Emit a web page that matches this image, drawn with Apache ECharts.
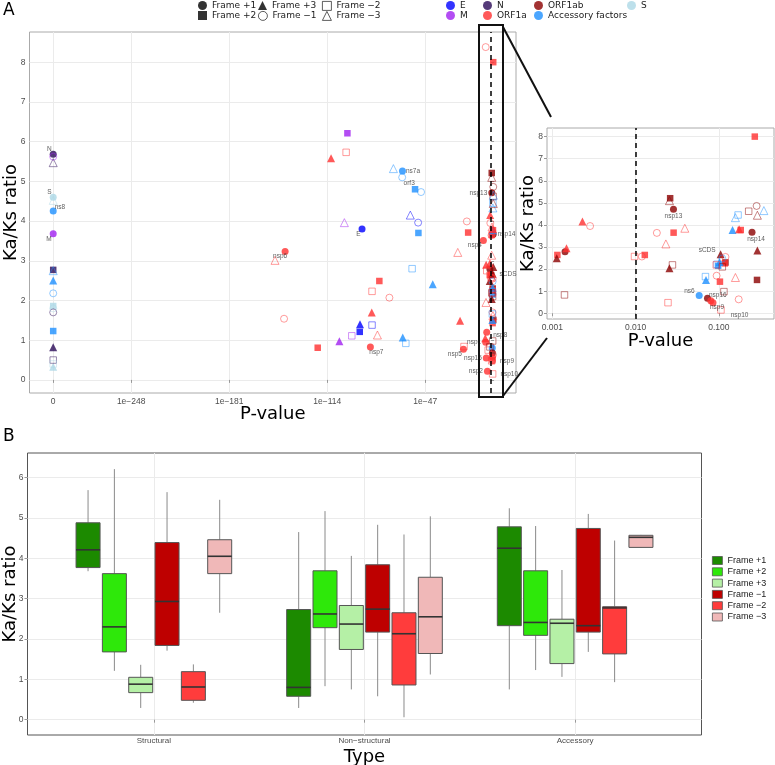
<!DOCTYPE html>
<html>
<head>
<meta charset="utf-8">
<script src="https://cdn.jsdelivr.net/npm/echarts@6/dist/echarts.min.js"></script>
<style>
  html, body { margin: 0; padding: 0; background: #fff; }
  #chart { width: 775px; height: 765px; }
</style>
</head>
<body>
<div id="chart"></div>
<script>
// reading frames, legend order
const frames = ['Frame +1', 'Frame +2', 'Frame +3', 'Frame −1', 'Frame −2', 'Frame −3'];

// panel A: [p-value, Ka/Ks ratio, frame, label]
const geneE = [
  [6e-91, 3.80, 1, 'E'],
  [6e-58, 4.15, -3],
  [1.3e-52, 3.96, -1],
  [2.5e-92, 1.40, 3],
  [4e-84, 1.38, -2],
  [1.6e-92, 1.21, 2]
];
const geneM = [
  [0, 3.68, 1, 'M'],
  [0, 5.62, -1],
  [6e-101, 6.21, 2],
  [5e-103, 3.96, -3],
  [6e-98, 1.11, -2],
  [2e-106, 0.97, 3]
];
const geneN = [
  [0, 5.68, 1, 'N'],
  [0, 5.47, -3],
  [0, 2.77, 2],
  [0, 0.82, 3],
  [0, 1.70, -1],
  [0, 0.50, -2]
];
const geneS = [
  [0, 4.60, 1, 'S'],
  [0, 4.52, -3],
  [0, 1.86, 2],
  [0, 0.33, 3],
  [0, 0.40, -2],
  [0, 1.80, -1]
];
const accessory = [
  [0, 4.25, 1, 'ns8'],
  [0, 2.50, 3],
  [0, 2.18, -1],
  [0, 1.23, 2],
  [0, 2.75, -3],
  [1.6e-69, 5.32, -3],
  [2.5e-63, 5.26, 1, 'ns7a'],
  [1.6e-63, 5.10, -1],
  [1e-54, 4.80, 2, 'orf3'],
  [1.3e-50, 4.73, -1],
  [2e-52, 3.70, 2],
  [1e-56, 2.80, -2],
  [1.3e-42, 2.41, 3],
  [4e-63, 1.07, 3],
  [5e-61, 0.92, -2],
  [0.058, 0.80, 1, 'ns6'],
  [0.069, 1.66, -2],
  [0.070, 1.51, 3],
  [0.146, 3.77, 3],
  [0.158, 4.33, -3],
  [0.170, 4.45, -2],
  [0.347, 4.65, -3],
  [0.095, 2.22, -2],
  [0.098, 2.15, 2],
  [0.102, 2.32, 3],
  [0.110, 2.48, -1]
];
const orf1ab = [
  [0.00113, 2.49, 3],
  [0.00142, 2.79, 1],
  [0.0014, 0.83, -2],
  [0.026, 5.21, 2],
  [0.0255, 5.10, -3],
  [0.0285, 4.71, 1, 'nsp13'],
  [0.0277, 2.19, -2],
  [0.0255, 2.04, 3],
  [0.073, 0.68, 1, 'nsp16'],
  [0.105, 2.67, 3, 'sCDS'],
  [0.110, 2.10, -2],
  [0.115, 0.98, -2],
  [0.120, 2.30, 2],
  [0.287, 1.51, 2],
  [0.290, 2.84, 3],
  [0.250, 3.67, 1, 'nsp14'],
  [0.228, 4.62, -2],
  [0.284, 4.86, -1],
  [0.290, 4.44, -3]
];
const orf1a = [
  [0.27, 8.00, 2],
  [2e-6, 8.38, -1],
  [0.00115, 2.64, 2],
  [0.00148, 2.94, 3],
  [0.0023, 4.15, 3],
  [0.00284, 3.95, -1],
  [0.0097, 2.57, -2],
  [0.0119, 2.57, -1],
  [0.0129, 2.64, 2],
  [0.018, 3.64, -1],
  [0.0231, 3.14, -3],
  [0.0286, 3.65, 2],
  [0.039, 3.85, -3],
  [0.0245, 0.48, -2],
  [0.094, 1.70, -1],
  [0.080, 0.57, 1],
  [0.085, 0.48, 1, 'nsp9'],
  [0.106, 0.15, -2, 'nsp10'],
  [0.093, 2.19, -2],
  [0.118, 2.26, 2],
  [0.120, 2.55, -1],
  [0.103, 1.43, 2],
  [0.173, 0.63, -1],
  [0.158, 1.62, -3],
  [0.183, 3.77, 2],
  [0.175, 3.80, 3],
  [8e-102, 5.73, -2],
  [4e-112, 5.58, 3],
  [2.5e-19, 3.99, -1],
  [2e-18, 3.71, 2],
  [5e-8, 3.51, 1, 'nsp4'],
  [1.6e-25, 3.21, -3],
  [1.6e-143, 3.23, 1, 'nsp6'],
  [2e-150, 3.01, -3],
  [4e-79, 2.49, 2],
  [4e-84, 2.23, -2],
  [3e-72, 2.07, -1],
  [3e-144, 1.54, -1],
  [2.5e-84, 1.70, 3],
  [2e-80, 1.13, -3],
  [3e-85, 0.83, 1, 'nsp7'],
  [3e-121, 0.81, 2],
  [6e-24, 1.49, 3],
  [3e-21, 0.84, -2],
  [1.2e-21, 0.77, 1, 'nsp5'],
  [1e-5, 1.20, 1, 'nsp8'],
  [2e-6, 0.95, 1, 'nsp1'],
  [5e-6, 0.55, 1, 'nsp15'],
  [3e-5, 0.22, 1, 'nsp2'],
  [1e-6, 1.05, 3],
  [4e-6, 2.90, 3],
  [1e-5, 2.75, -2],
  [3e-6, 1.95, -3],
  [1e-4, 0.75, -2]
];

// main x axis ticks (log10 p); p = 0 is drawn at the "0" tick
const ZERO_POS = -301.3;
const mainTicks = [ZERO_POS, -248, -181, -114, -47];
const mainTickLabels = ['0', '1e−248', '1e−181', '1e−114', '1e−47'];
const insetTicks = [-3, -2, -1];
const insetTickLabels = ['0.001', '0.010', '0.100'];
const ratioTicksA = [0, 1, 2, 3, 4, 5, 6, 7, 8];

// panel B: per frame, per type [min, q1, median, q3, max]
const types = ['Structural', 'Non−structural', 'Accessory'];
const ratioTicksB = [0, 1, 2, 3, 4, 5, 6];
const boxPlus1 = [[3.68, 3.77, 4.21, 4.88, 5.69], [0.29, 0.58, 0.80, 2.73, 4.65], [0.75, 2.33, 4.25, 4.78, 5.24]];
const boxPlus2 = [[1.21, 1.68, 2.30, 3.62, 6.21], [0.83, 2.28, 2.62, 3.69, 5.17], [1.23, 2.09, 2.41, 3.69, 4.80]];
const boxPlus3 = [[0.29, 0.67, 0.88, 1.05, 1.36], [0.75, 1.74, 2.37, 2.83, 4.06], [1.06, 1.39, 2.39, 2.49, 3.71]];
const boxMinus1 = [[1.71, 1.84, 2.93, 4.39, 5.64], [0.58, 2.17, 2.74, 3.84, 4.83], [1.68, 2.17, 2.33, 4.74, 5.10]];
const boxMinus2 = [[0.42, 0.48, 0.81, 1.19, 1.37], [0.06, 0.86, 2.13, 2.65, 4.59], [0.93, 1.63, 2.77, 2.80, 4.44]];
const boxMinus3 = [[2.65, 3.62, 4.05, 4.46, 5.45], [1.12, 1.64, 2.55, 3.53, 5.04], [4.26, 4.27, 4.52, 4.57, 4.58]];
const boxStats = [boxPlus1, boxPlus2, boxPlus3, boxMinus1, boxMinus2, boxMinus3];

// styles
const groupList = [
  ['E', geneE], ['M', geneM], ['N', geneN], ['S', geneS],
  ['Accessory factors', accessory], ['ORF1ab', orf1ab], ['ORF1a', orf1a]
];
const groupColor = {
  'E': '#0000FF', 'N': '#2B0A57', 'ORF1ab': '#8B0000', 'S': '#ADD8E6',
  'M': '#A020F0', 'ORF1a': '#FF3030', 'Accessory factors': '#1E90FF'
};
const frameSymbol = ['circle', 'rect', 'triangle', 'circle', 'rect', 'triangle'];
const frameSize = [7, 6.5, 8, 7, 6.5, 8];
const boxColor = ['#1C8A00', '#2EE80A', '#B5F0A6', '#BE0000', '#FF3C3C', '#F0B8B8'];

const mainLabelPos = {
  N: ['left', [3, -5]], S: ['left', [3, -5]], ns8: ['right', [-3, -4]], M: ['left', [3, 5]],
  ns7a: ['right', [-1, 0]], orf3: ['left', [4, -6]], E: ['left', [3, 5]],
  nsp6: ['bottom', [-5, -3]], nsp7: ['bottom', [6, -3]], nsp4: ['left', [3, 5]], nsp5: ['left', [3, 5]],
  nsp13: ['left', [0, 0]], nsp14: ['right', [0, 0]], sCDS: ['right', [2, 0]], nsp8: ['right', [2, 3]],
  nsp1: ['left', [0, 0]], nsp9: ['right', [3, 0]], nsp15: ['left', [0, 0]], nsp10: ['right', [3, 0]], nsp2: ['left', [0, 0]]
};
const insetLabelPos = {
  nsp13: ['bottom', [0, -1]], nsp14: ['bottom', [4, -1]], sCDS: ['left', [0, -4]], ns6: ['left', [0, -4]],
  nsp16: ['right', [-3, -3]], nsp9: ['bottom', [4, -3]], nsp10: ['right', [5, 5]]
};

function frameIndex(f) { return f > 0 ? f - 1 : 2 - f; }
function xPos(p) { return p === 0 ? ZERO_POS : Math.log10(p); }
function fade(hex, a) {
  const n = parseInt(hex.slice(1), 16);
  return 'rgba(' + (n >> 16) + ',' + ((n >> 8) & 255) + ',' + (n & 255) + ',' + a + ')';
}

function pointItem(pt, color, filled, labelMap) {
  const item = {
    name: pt[3] || '',
    value: [xPos(pt[0]), pt[1]],
    itemStyle: filled ? { color: color } : { borderColor: fade(color, 0.6) }
  };
  const lp = pt[3] && labelMap[pt[3]];
  if (lp) {
    item.label = { show: true, position: lp[0], offset: lp[1], formatter: pt[3],
      fontSize: 6.5, color: '#333', distance: 1, fontFamily: 'Liberation Sans' };
  }
  return item;
}

function scatterSeries(panel) {
  return frames.map(function (f, fi) {
    const filled = fi < 3;
    const data = [];
    groupList.forEach(function (g) {
      g[1].forEach(function (pt) {
        if (frameIndex(pt[2]) !== fi) return;
        if (panel === 1 && !(pt[0] >= 0.0009 && pt[0] <= 0.45)) return;
        data.push(pointItem(pt, groupColor[g[0]], filled, panel === 0 ? mainLabelPos : insetLabelPos));
      });
    });
    const s = {
      name: f, type: 'scatter', xAxisIndex: panel, yAxisIndex: panel,
      symbol: frameSymbol[fi], symbolSize: frameSize[fi], silent: true,
      itemStyle: filled ? { color: '#000', borderWidth: 0 }
                        : { color: 'rgba(0,0,0,0)', borderColor: '#000', borderWidth: 1 },
      data: data
    };
    if (fi === 0) {
      s.markLine = { silent: true, symbol: ['none', 'none'], label: { show: false },
        lineStyle: { color: '#000', type: [5, 4], width: 1.5 }, data: [{ xAxis: -2 }] };
    }
    return s;
  });
}

const DODGE = 0.125, BOX_W = 0.114;
function boxRenderer(fi) {
  return function (params, api) {
    const cx = api.value(0) + (fi - 2.5) * DODGE;
    const hi = api.coord([cx - BOX_W / 2, api.value(4)]);
    const lo = api.coord([cx + BOX_W / 2, api.value(2)]);
    const top = api.coord([cx, api.value(5)]);
    const bot = api.coord([cx, api.value(1)]);
    const med = api.coord([cx, api.value(3)]);
    const wStyle = { stroke: '#8a8a8a', lineWidth: 1 };
    return {
      type: 'group',
      children: [
        { type: 'line', shape: { x1: top[0], y1: top[1], x2: top[0], y2: hi[1] }, style: wStyle },
        { type: 'line', shape: { x1: bot[0], y1: lo[1], x2: bot[0], y2: bot[1] }, style: wStyle },
        { type: 'rect', shape: { x: hi[0], y: hi[1], width: lo[0] - hi[0], height: lo[1] - hi[1] },
          style: { fill: boxColor[fi], stroke: '#555', lineWidth: 1 } },
        { type: 'line', shape: { x1: hi[0], y1: med[1], x2: lo[0], y2: med[1] },
          style: { stroke: '#333', lineWidth: 1.6 } }
      ]
    };
  };
}

const boxSeries = boxStats.map(function (stats, fi) {
  return {
    name: 'B ' + frames[fi], type: 'custom', xAxisIndex: 2, yAxisIndex: 2, silent: true,
    renderItem: boxRenderer(fi),
    encode: { x: 0, y: [1, 2, 3, 4, 5] },
    itemStyle: { color: boxColor[fi], borderColor: '#555', borderWidth: 1 },
    data: stats.map(function (s, ti) { return [ti + 1].concat(s); })
  };
});

const colorSeries = Object.keys(groupColor).map(function (g) {
  return { name: g, type: 'scatter', xAxisIndex: 0, yAxisIndex: 0, symbol: 'circle',
    itemStyle: { color: groupColor[g] }, data: [] };
});

const tickText = { fontSize: 8.5, color: '#4d4d4d', fontFamily: 'Liberation Sans' };
const titleText = { fontSize: 18, color: '#000', fontFamily: 'DejaVu Sans' };

function valueAxis(opt) {
  return Object.assign({
    type: 'value', axisLine: { show: false },
    axisTick: { show: true, length: 3, lineStyle: { color: '#999' }, customValues: opt.ticks },
    axisLabel: Object.assign({ customValues: opt.ticks, margin: 4 }, tickText,
      opt.labels ? { formatter: function (v) { return opt.labels[opt.ticks.indexOf(v)]; } } : {}),
    splitLine: { show: true, lineStyle: { color: '#ebebeb', width: 1 } },
    nameLocation: 'middle', nameMoveOverlap: false, nameTextStyle: titleText
  }, opt.extra);
}

// legends (positioned like the ggplot guides)
const legends = [];
const legendText = { fontSize: 9, color: '#1a1a1a', fontFamily: 'DejaVu Sans' };
const shapeCols = [198, 258, 322];
frames.forEach(function (f, fi) {
  const col = [0, 0, 1, 1, 2, 2][fi];
  const row = [0, 1, 0, 1, 0, 1][fi];
  legends.push({ data: [f], left: shapeCols[col], top: row * 10 + 1, padding: 0,
    itemWidth: 9, itemHeight: 9, selectedMode: false, textStyle: legendText,
    itemStyle: { borderWidth: fi < 3 ? 0 : 0.8 } });
});
const colorLegendPos = { 'E': [446, 1], 'M': [446, 11], 'N': [483, 1], 'ORF1a': [483, 11],
  'ORF1ab': [534, 1], 'Accessory factors': [534, 11], 'S': [627, 1] };
Object.keys(colorLegendPos).forEach(function (g) {
  legends.push({ data: [g], left: colorLegendPos[g][0], top: colorLegendPos[g][1], padding: 0,
    icon: 'circle', itemWidth: 9, itemHeight: 9, selectedMode: false, textStyle: legendText });
});
legends.push({ data: frames.map(function (f) { return 'B ' + f; }), orient: 'vertical',
  left: 712, top: 556, padding: 0, icon: 'rect', itemWidth: 10, itemHeight: 8, itemGap: 2.3,
  selectedMode: false, formatter: function (n) { return n.slice(2); },
  itemStyle: { borderColor: '#555', borderWidth: 0.8 },
  textStyle: { fontSize: 9, color: '#1a1a1a', fontFamily: 'Liberation Sans' } });

const gridBase = { show: true, borderWidth: 1, backgroundColor: 'transparent', containLabel: false, outerBoundsMode: 'none' };

const chart = echarts.init(document.getElementById('chart'), null, { renderer: 'canvas' });
chart.setOption({
  animation: false,
  backgroundColor: '#fff',
  legend: legends,
  grid: [
    Object.assign({ left: 29.5, top: 32, width: 486.5, height: 361, borderColor: '#aaa' }, gridBase),
    Object.assign({ left: 547, top: 128, width: 227, height: 191, borderColor: '#aaa' }, gridBase),
    Object.assign({ left: 27.5, top: 453, width: 674, height: 282, borderColor: '#555' }, gridBase)
  ],
  xAxis: [
    valueAxis({ ticks: mainTicks, labels: mainTickLabels,
      extra: { gridIndex: 0, min: -317.5, max: 15, name: 'P-value', nameGap: 12 } }),
    valueAxis({ ticks: insetTicks, labels: insetTickLabels,
      extra: { gridIndex: 1, min: -3.064, max: -0.338, name: 'P-value', nameGap: 13 } }),
    valueAxis({ ticks: [1, 2, 3], labels: types,
      extra: { gridIndex: 2, min: 0.4, max: 3.6, name: 'Type', nameGap: 13,
        axisLabel: Object.assign({ customValues: [1, 2, 3], margin: 2,
          formatter: function (v) { return types[v - 1]; } }, tickText, { fontSize: 8 }) } })
  ],
  yAxis: [
    valueAxis({ ticks: ratioTicksA, extra: { gridIndex: 0, min: -0.33, max: 8.76, name: 'Ka/Ks ratio', nameGap: 9 } }),
    valueAxis({ ticks: ratioTicksA, extra: { gridIndex: 1, min: -0.26, max: 8.39, name: 'Ka/Ks ratio', nameGap: 10 } }),
    valueAxis({ ticks: ratioTicksB, extra: { gridIndex: 2, min: -0.38, max: 6.61, name: 'Ka/Ks ratio', nameGap: 8 } })
  ],
  graphic: [
    { type: 'text', left: 3, top: 2, style: { text: 'A', fontSize: 17, fontFamily: 'DejaVu Sans', fill: '#000' } },
    { type: 'text', left: 3, top: 428, style: { text: 'B', fontSize: 17, fontFamily: 'DejaVu Sans', fill: '#000' } },
    // zoom box around the p > 1e-10 cluster and its connectors to the inset
    { type: 'rect', shape: { x: 479, y: 25, width: 24, height: 372 }, style: { fill: 'none', stroke: '#111', lineWidth: 2 }, z: 10 },
    { type: 'line', shape: { x1: 503, y1: 27, x2: 551, y2: 117 }, style: { stroke: '#111', lineWidth: 2 }, z: 10 },
    { type: 'line', shape: { x1: 503, y1: 396, x2: 547, y2: 338 }, style: { stroke: '#111', lineWidth: 2 }, z: 10 }
  ],
  series: scatterSeries(0).concat(scatterSeries(1), boxSeries, colorSeries)
});
</script>
</body>
</html>
